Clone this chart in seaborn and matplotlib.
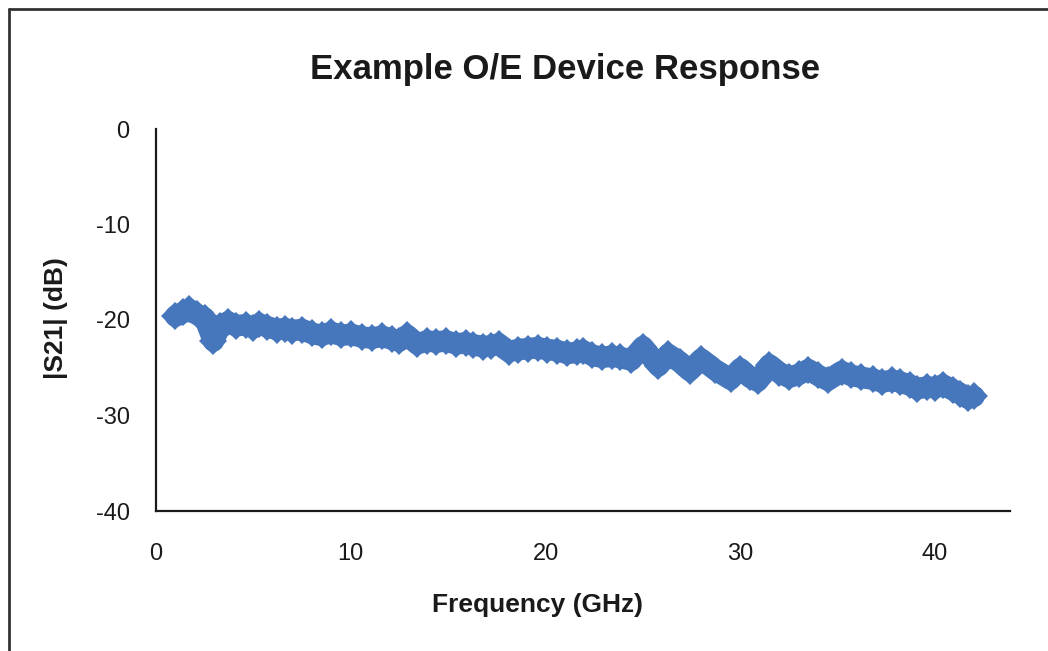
import pandas as pd
import seaborn as sns
import matplotlib.pyplot as plt
from matplotlib.lines import Line2D

freq_ghz = [1.0, 1.4, 1.7, 2.1, 2.5, 2.95, 3.3, 3.7, 4.1, 4.6,
            5.0, 5.3, 5.7, 6.2, 6.6, 7.0, 7.5, 8.0, 8.5, 9.0,
            9.5, 10.0, 10.6, 11.1, 11.6, 12.1, 12.5, 12.9, 13.4, 13.9,
            14.4, 14.9, 15.4, 15.9, 16.3, 16.8, 17.2, 17.6, 18.1, 18.6,
            19.1, 19.6, 20.1, 20.6, 21.1, 21.6, 21.9, 22.4, 22.9, 23.4,
            23.8, 24.4, 25.0, 25.8, 26.3, 26.9, 27.4, 28.0, 28.7, 29.5,
            30.0, 30.5, 30.9, 31.5, 32.0, 32.5, 33.0, 33.5, 34.0, 34.5,
            35.2, 35.7, 36.2, 36.8, 37.3, 37.8, 38.2, 38.7, 39.1, 39.6,
            40.0, 40.4, 40.9, 41.3, 41.7, 42.0]
s21_db = [-19.6, -19.2, -18.9, -19.4, -19.8, -22.2, -20.6, -20.2, -20.6, -20.5,
          -20.8, -20.4, -20.7, -21.0, -20.9, -21.1, -21.0, -21.4, -21.6, -21.3,
          -21.6, -21.5, -21.8, -21.9, -21.7, -22.0, -22.2, -21.6, -22.5, -22.2,
          -22.3, -22.2, -22.5, -22.4, -22.6, -22.8, -22.7, -22.5, -23.3, -23.1,
          -23.0, -22.9, -23.1, -23.2, -23.5, -23.4, -23.2, -23.7, -23.9, -23.8,
          -23.9, -24.2, -22.8, -24.8, -23.6, -24.4, -25.3, -24.1, -25.2, -26.2,
          -25.1, -26.0, -26.4, -24.7, -25.5, -26.0, -25.7, -25.2, -25.8, -26.3,
          -25.4, -25.8, -26.0, -26.2, -26.5, -26.3, -26.5, -26.8, -27.2, -27.0,
          -27.1, -26.8, -27.3, -27.7, -28.2, -28.0]

df = pd.DataFrame({'freq': freq_ghz, 's21': s21_db})

sns.set_style('white')
plt.rcParams['font.family'] = ['Liberation Sans', 'DejaVu Sans']
plt.rcParams['axes.unicode_minus'] = False

fig = plt.figure(figsize=(10.48, 6.51), dpi=100)
ax = fig.add_axes([156 / 1048, 1 - 511 / 651, 854 / 1048, 382 / 651])

blue = '#4677BD'
sns.lineplot(data=df, x='freq', y='s21', ax=ax, color=blue, linewidth=15.5,
             marker='D', markersize=14, markeredgewidth=0,
             solid_capstyle='round', solid_joinstyle='round')

ax.set_xlim(0, 43.85)
ax.set_ylim(-40, 0)
ax.set_xticks([0, 10, 20, 30, 40])
ax.set_yticks([0, -10, -20, -30, -40])

for side in ['top', 'right']:
    ax.spines[side].set_visible(False)
for side in ['left', 'bottom']:
    ax.spines[side].set_color('#1a1a1a')
    ax.spines[side].set_linewidth(1.6)

ax.tick_params(axis='both', direction='out', length=7, width=1.6,
               color='#1a1a1a', labelsize=17, labelcolor='#1a1a1a')
ax.tick_params(axis='y', pad=12)
ax.tick_params(axis='x', pad=16)

ax.set_xlabel('Frequency (GHz)', fontsize=19, fontweight='bold', color='#1a1a1a')
ax.set_ylabel('|S21| (dB)', fontsize=19, fontweight='bold', color='#1a1a1a')
ax.xaxis.set_label_coords((537 - 156) / 854, -0.215)
ax.yaxis.set_label_coords((68 - 156) / 854, (511 - 318) / 382)

fig.suptitle('Example O/E Device Response', x=565 / 1048, y=1 - 70 / 651,
             va='center', fontsize=25, fontweight='bold', color='#1a1a1a')

# frame around the figure (left and top edges visible)
fig.add_artist(Line2D([9 / 1048, 9 / 1048], [0, 1 - 9 / 651],
                      transform=fig.transFigure, color='#333333', linewidth=2))
fig.add_artist(Line2D([9 / 1048, 1], [1 - 9 / 651, 1 - 9 / 651],
                      transform=fig.transFigure, color='#333333', linewidth=2))

fig.savefig('out.png', dpi=100)
